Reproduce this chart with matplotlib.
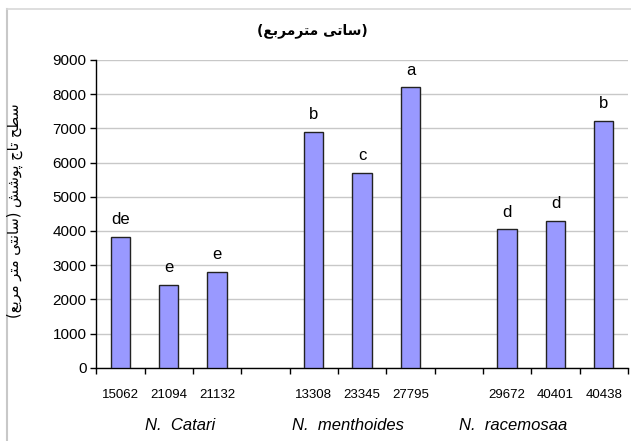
import matplotlib
matplotlib.use("Agg")
import matplotlib.pyplot as plt
from matplotlib.lines import Line2D
import numpy as np

plt.rcParams['font.family'] = ['Liberation Sans', 'DejaVu Sans']

# data
groups = ['N.  Catari', 'N.  menthoides', 'N.  racemosaa']
accessions = [['15062', '21094', '21132'],
              ['13308', '23345', '27795'],
              ['29672', '40401', '40438']]
values = [[3820, 2420, 2810],
          [6900, 5700, 8200],
          [4050, 4290, 7210]]
letters = [['de', 'e', 'e'],
           ['b', 'c', 'a'],
           ['d', 'd', 'b']]
title_fa = '(ساتی مترمربع)'
ylabel_fa = 'سطح تاج پوشش (سانتی متر مربع)'

# minimal arabic/persian shaping (isolated, final, initial, medial)
FORMS = {
    'ا': ('\uFE8D', '\uFE8E', None, None),
    'ب': ('\uFE8F', '\uFE90', '\uFE91', '\uFE92'),
    'ت': ('\uFE95', '\uFE96', '\uFE97', '\uFE98'),
    'ج': ('\uFE9D', '\uFE9E', '\uFE9F', '\uFEA0'),
    'ح': ('\uFEA1', '\uFEA2', '\uFEA3', '\uFEA4'),
    'ر': ('\uFEAD', '\uFEAE', None, None),
    'س': ('\uFEB1', '\uFEB2', '\uFEB3', '\uFEB4'),
    'ش': ('\uFEB5', '\uFEB6', '\uFEB7', '\uFEB8'),
    'ط': ('\uFEC1', '\uFEC2', '\uFEC3', '\uFEC4'),
    'ع': ('\uFEC9', '\uFECA', '\uFECB', '\uFECC'),
    'م': ('\uFEE1', '\uFEE2', '\uFEE3', '\uFEE4'),
    'ن': ('\uFEE5', '\uFEE6', '\uFEE7', '\uFEE8'),
    'و': ('\uFEED', '\uFEEE', None, None),
    'پ': ('\uFB56', '\uFB57', '\uFB58', '\uFB59'),
    'ی': ('\uFBFC', '\uFBFD', '\uFBFE', '\uFBFF'),
}


def shape(s):
    out = []
    for i, ch in enumerate(s):
        if ch not in FORMS:
            out.append(ch)
            continue
        f = FORMS[ch]
        prev = s[i - 1] if i > 0 else ''
        nxt = s[i + 1] if i + 1 < len(s) else ''
        pj = prev in FORMS and FORMS[prev][2] is not None
        nj = f[2] is not None and nxt in FORMS
        if pj and nj:
            out.append(f[3])
        elif pj:
            out.append(f[1])
        elif nj:
            out.append(f[2])
        else:
            out.append(f[0])
    vis = ''.join(out)[::-1]
    return vis.translate(str.maketrans('()', ')('))


W, H = 631, 441
fig = plt.figure(figsize=(W / 100, H / 100), dpi=100)
ax = fig.add_axes([96.3 / W, 1 - 367.8 / H, (628 - 96.3) / W, (367.8 - 60) / H])

pos, vals, labs, names = [], [], [], []
for g in range(len(groups)):
    for j in range(3):
        pos.append(g * 4 + j)
        vals.append(values[g][j])
        labs.append(letters[g][j])
        names.append(accessions[g][j])

ax.bar(pos, vals, width=0.4, color='#9999ff', edgecolor='#222222', linewidth=1.0, zorder=3)
for x, v, l in zip(pos, vals, labs):
    ax.annotate(l, (x, v), xytext=(0, 7), textcoords='offset points',
                ha='center', va='bottom', fontsize=12, color='black')

ax.set_xlim(-0.5, 10.5)
ax.set_ylim(0, 9000)
ax.set_yticks(np.arange(0, 9001, 1000))
ax.yaxis.grid(True, color='#c8c8c8', linewidth=1.0, zorder=0)
ax.set_axisbelow(True)
ax.set_xticks(np.arange(-0.5, 11, 1))
ax.set_xticklabels([])
ax.set_xticks(pos, minor=True)
ax.set_xticklabels(names, minor=True, fontsize=9.5)
ax.tick_params(axis='x', which='major', direction='out', length=4, width=1, color='black')
ax.tick_params(axis='x', which='minor', length=0, pad=15)
ax.tick_params(axis='y', direction='out', length=4, width=1, labelsize=11, pad=3)
for s in ['top', 'right']:
    ax.spines[s].set_visible(False)
for s in ['left', 'bottom']:
    ax.spines[s].set_linewidth(1.0)

grp_x = [1.23, 4.70, 8.13]
grp_y = -(425 - 367.8) / (367.8 - 60)
for gx, name in zip(grp_x, groups):
    ax.text(gx, grp_y, name, transform=ax.get_xaxis_transform(), ha='center', va='center',
            fontsize=12, style='italic')

fig.text(312 / W, 1 - 31 / H, shape(title_fa), ha='center', va='center',
         fontsize=10, fontweight='bold', family='DejaVu Sans')
fig.text(15 / W, 1 - 211 / H, shape(ylabel_fa), ha='center', va='center',
         rotation=90, fontsize=10.5, family='DejaVu Sans')

# chart area border
fig.add_artist(Line2D([7 / W, 7 / W], [0, 1 - 9 / H], color='#c8c8c8', linewidth=1.5))
fig.add_artist(Line2D([7 / W, 1], [1 - 9 / H, 1 - 9 / H], color='#d8d8d8', linewidth=1.2))

fig.savefig('out.png', dpi=100)
